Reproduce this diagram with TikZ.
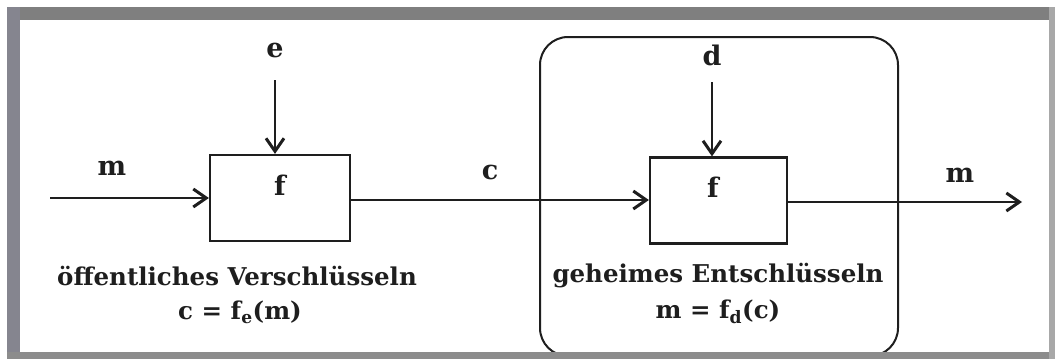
\documentclass[tikz,border=0pt]{standalone}
\usepackage{fontspec}
\setmainfont{DejaVu Serif}
\usetikzlibrary{arrows.meta}
\definecolor{ink}{HTML}{1E1E1E}
\definecolor{frametop}{HTML}{7F7F7F}
\definecolor{frameleft}{HTML}{85858F}
\definecolor{framebot}{HTML}{8C8C8C}
\definecolor{frameright}{HTML}{A8A8A8}
\tikzset{
  fbox/.style={draw=ink, line width=2.2pt, fill=white, minimum width=140pt, minimum height=86pt, inner sep=0pt},
  flow/.style={draw=ink, line width=1.8pt, -{Straight Barb[length=13pt,width=18pt,line width=3pt]}},
  lbl/.style={text=ink, font=\fontsize{27}{30}\selectfont\bfseries, inner sep=0pt},
  captxt/.style={text=ink, font=\fontsize{24.5}{28}\selectfont\bfseries, inner sep=0pt, align=center},
}
\begin{document}
\begin{tikzpicture}[x=1pt, y=-1pt]
  \useasboundingbox (0,0) rectangle (1055,359);
  \fill[white] (0,0) rectangle (1055,359);

  % decryption side, framed as the secret part
  \draw[ink, line width=2pt, rounded corners=28pt] (540,37) rectangle (898,356);

  % function blocks
  \node[fbox] (enc) at (280,198) {};
  \node[fbox, minimum width=137pt] (dec) at (718.5,200.5) {};
  \node[lbl] at (280,185) {f};
  \node[lbl] at (713,187) {f};

  % inputs and outputs
  \coordinate (min) at (50,198);
  \coordinate (eTop) at (275,80);
  \coordinate (dTop) at (712,82);
  \coordinate (mout) at (1022,202);

  \draw[flow] (min) -- (min -| enc.west);
  \draw[flow] (eTop) -- (eTop |- enc.north);
  \draw[flow] (enc.east |- 0,200) -- (dec.west |- 0,200);
  \draw[flow] (dTop) -- (dTop |- dec.north);
  \draw[flow] (dec.east |- mout) -- (mout);

  % symbol labels
  \node[lbl] (le) at (275,50) {e};
  \node[lbl] (ld) at (712,55) {d};
  \node[lbl] (lm1) at (112,168) {m};
  \node[lbl] (lc) at (490,172) {c};
  \node[lbl] (lm2) at (960,175) {m};

  % captions
  \node[captxt] (capE) at (237,276) {öffentliches Verschlüsseln};
  \node[captxt] (eqE) at (240,312) {c = f\textsubscript{e}(m)};
  \node[captxt] (capD) at (718,276) {geheimes Entschlüsseln};
  \node[captxt] (eqD) at (718,312) {m = f\textsubscript{d}(c)};

  % scan frame
  \fill[frametop] (7,7) rectangle (1055,20);
  \fill[frameleft] (7,7) rectangle (20,359);
  \fill[framebot] (7,352) rectangle (1055,359);
  \fill[frameright] (1049,7) rectangle (1055,359);
\end{tikzpicture}
\end{document}
